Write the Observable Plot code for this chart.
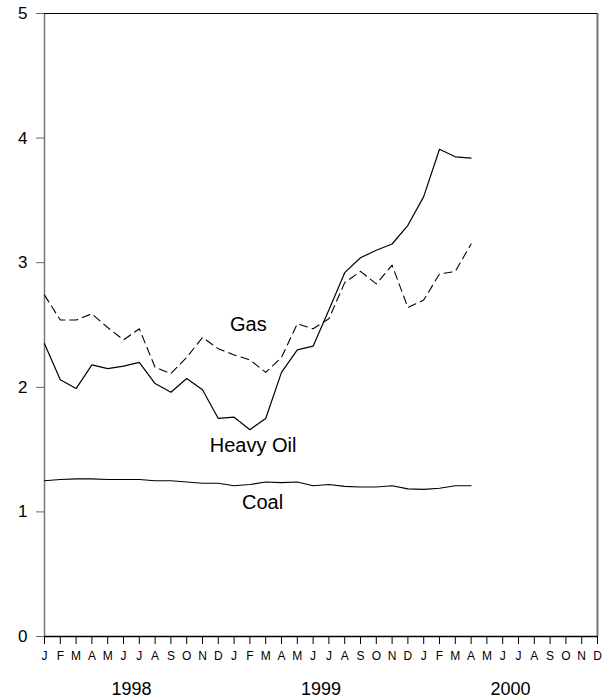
<!DOCTYPE html>
<html><head><meta charset="utf-8">
<script src="https://cdn.jsdelivr.net/npm/d3@7"></script>
<script src="https://cdn.jsdelivr.net/npm/@observablehq/plot@0.6"></script>
<style>body{margin:0;background:#fff}</style>
</head><body><div id="chart"></div>
<script>
const monthLetters = ["J","F","M","A","M","J","J","A","S","O","N","D"];
const years = ["1998","1999","2000"];
const yTicks = [0, 1, 2, 3, 4, 5];
// monthly values, Jan 1998 .. Apr 2000
const heavyOil = [2.35, 2.06, 1.99, 2.18, 2.15, 2.17, 2.20, 2.03, 1.96, 2.07, 1.98, 1.75,
                  1.76, 1.66, 1.75, 2.12, 2.30, 2.33, 2.62, 2.92, 3.04, 3.10, 3.15, 3.30,
                  3.53, 3.91, 3.85, 3.84];
const gas = [2.74, 2.54, 2.54, 2.59, 2.48, 2.38, 2.47, 2.16, 2.11, 2.24, 2.40, 2.31,
             2.26, 2.22, 2.12, 2.24, 2.51, 2.47, 2.55, 2.84, 2.93, 2.83, 2.98, 2.64,
             2.70, 2.91, 2.93, 3.15];
const coal = [1.25, 1.26, 1.265, 1.265, 1.26, 1.26, 1.26, 1.25, 1.25, 1.24, 1.23, 1.23,
              1.21, 1.22, 1.24, 1.235, 1.24, 1.21, 1.22, 1.205, 1.20, 1.20, 1.21, 1.185,
              1.18, 1.19, 1.21, 1.21];
const seriesNames = ["Gas", "Heavy Oil", "Coal"];
const labelX = [12.9, 13.2, 13.8];
const labelY = [2.50, 1.53, 1.075];

const rows = (vals, name) => vals.map((v, i) => ({m: i, v, name}));
const labels = seriesNames.map((n, i) => ({name: n, x: labelX[i], y: labelY[i]}));

const chart = Plot.plot({
  width: 610, height: 700,
  marginLeft: 44, marginRight: 13, marginTop: 13, marginBottom: 64,
  style: {fontFamily: "'Liberation Sans', Arial, sans-serif", background: "#fff", color: "#000"},
  x: {domain: [0, 35]},
  y: {domain: [0, 5]},
  marks: [
    Plot.axisY({ticks: yTicks, tickFormat: d => String(d), tickSize: 8, tickPadding: 9, fontSize: 17, label: null, stroke: "#666"}),
    Plot.axisX({ticks: d3.range(36), tickFormat: d => monthLetters[d % 12], tickSize: 8, tickPadding: 7, fontSize: 12, label: null}),
    Plot.axisX({ticks: [5.5, 17.5, 29.5], tickFormat: d => years[Math.floor(d / 12)], tickSize: 0, tickPadding: 46, fontSize: 18, label: null}),
    Plot.ruleX([0], {stroke: "#777", strokeWidth: 1.5}),
    Plot.ruleX([35], {stroke: "#777", strokeWidth: 2}),
    Plot.ruleY([5], {stroke: "#000", strokeWidth: 1}),
    Plot.ruleY([0], {stroke: "#000", strokeWidth: 1.5}),
    Plot.lineY(rows(gas, "Gas"), {x: "m", y: "v", stroke: "#000", strokeWidth: 1.1, strokeDasharray: "8,5"}),
    Plot.lineY(rows(heavyOil, "Heavy Oil"), {x: "m", y: "v", stroke: "#000", strokeWidth: 1.2}),
    Plot.lineY(rows(coal, "Coal"), {x: "m", y: "v", stroke: "#000", strokeWidth: 1.2}),
    Plot.text(labels, {x: "x", y: "y", text: "name", fontSize: 20, fill: "#000"})
  ]
});
document.getElementById("chart").appendChild(chart);
</script>
</body></html>
